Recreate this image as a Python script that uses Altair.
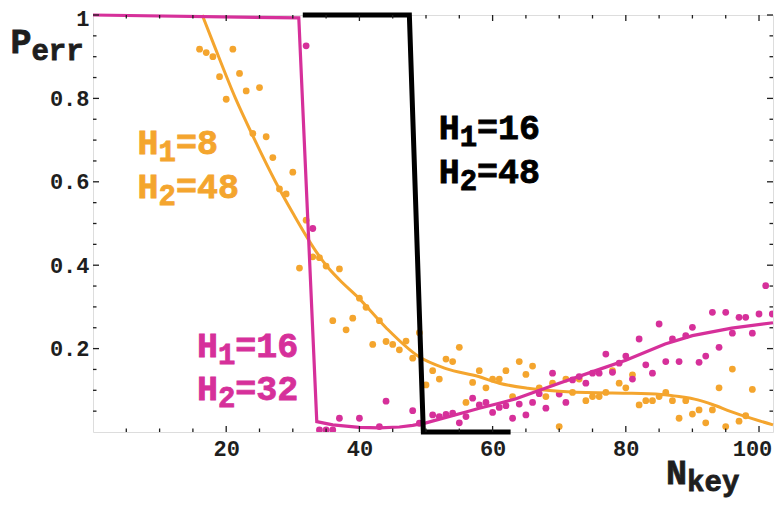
import altair as alt
import pandas as pd

# ---------------- data ----------------
ORANGE_X = list(range(16, 100))
ORANGE_Y = [0.918, 0.910, 0.900, 0.852, 0.798, 0.918, 0.860, 0.818, 0.716, 0.826,
            0.708, 0.658, 0.583, 0.571, 0.623, 0.393, 0.508, 0.420, 0.418, 0.398,
            0.267, 0.391, 0.245, 0.273, 0.321, 0.299, 0.210, 0.267, 0.217, 0.210,
            0.197, 0.218, 0.177, 0.238, 0.113, 0.147, 0.127, 0.175, 0.169, 0.203,
            0.071, 0.119, 0.147, 0.106, 0.127, 0.127, 0.147, 0.085, 0.169, 0.138,
            0.158, 0.106, 0.085, 0.117, 0.013, 0.127, 0.095, 0.127, 0.075, 0.085,
            0.085, 0.095, 0.147, 0.117, 0.106, 0.137, 0.065, 0.075, 0.075, 0.085,
            0.095, 0.075, 0.033, 0.075, 0.043, 0.053, 0.022, 0.053, 0.106, 0.013,
            0.151, 0.026, 0.039, 0.102]

MAG_X = [32, 33, 34, 35, 36, 37, 40, 43, 44, 48, 49] + list(range(51, 103))
MAG_Y = [0.926, 0.488, 0.005, 0.005, 0.005, 0.033, 0.033, 0.013, 0.074, 0.051, 0.021,
         0.041, 0.037, 0.042, 0.045, 0.022, 0.037, 0.081, 0.065, 0.071, 0.047,
         0.059, 0.063, 0.033, 0.067, 0.041, 0.071, 0.092, 0.057, 0.141, 0.091,
         0.071, 0.125, 0.133, 0.117, 0.141, 0.141, 0.187, 0.143, 0.165, 0.182,
         0.127, 0.223, 0.161, 0.141, 0.259, 0.169, 0.223, 0.169, 0.231, 0.251,
         0.167, 0.182, 0.287, 0.203, 0.287, 0.237, 0.275, 0.275, 0.237, 0.283,
         0.351, 0.283]

ORANGE_FIT_X = [16.4, 18, 21.4, 24, 27.4, 30, 33.4, 35, 37, 39.9, 44, 48.9, 53, 57.9,
                61, 65.3, 70, 75.8, 80, 85.3, 88, 90.8, 93, 95.8, 99, 102.1]
ORANGE_FIT_Y = [1.0, 0.935, 0.8, 0.71, 0.6, 0.525, 0.435, 0.40, 0.365, 0.321, 0.250,
                0.181, 0.152, 0.133, 0.117, 0.105, 0.098, 0.094, 0.093, 0.090, 0.085,
                0.077, 0.066, 0.049, 0.032, 0.017]

MAG_FIT_X = [0, 30.9, 33.6, 36, 40, 43, 46, 48, 50, 53, 56, 58, 61, 63.4, 66, 70,
             75.8, 80, 85.9, 90, 95.9, 102.1]
MAG_FIT_Y = [1.0, 0.993, 0.025, 0.017, 0.011, 0.010, 0.012, 0.016, 0.022, 0.035,
             0.048, 0.057, 0.069, 0.079, 0.094, 0.117, 0.149, 0.172, 0.211, 0.231,
             0.249, 0.262]

BLACK_X = [31.5, 47.5, 49.6, 62.7]
BLACK_Y = [1.0, 1.0, 0.0, 0.0]

X_MAJOR = [20, 40, 60, 80, 100]
X_MINOR = [5, 10, 15, 25, 30, 35, 45, 50, 55, 65, 70, 75, 85, 90, 95]
Y_MAJOR = [0.2, 0.4, 0.6, 0.8, 1.0]
Y_MINOR = [0.05, 0.1, 0.15, 0.25, 0.3, 0.35, 0.45, 0.5, 0.55, 0.65, 0.7, 0.75,
           0.85, 0.9, 0.95]

LABEL_MAIN = ["H", "H", "H", "H", "H", "H", "P", "N"]
LABEL_SUB = ["1", "2", "1", "2", "1", "2", "err", "key"]
LABEL_REST = ["=8", "=48", "=16", "=48", "=16", "=32", "", ""]
LABEL_X = [6.7, 6.7, 51.9, 51.9, 15.6, 15.6, -12.4, 86.05]
LABEL_Y = [0.666, 0.560, 0.703, 0.597, 0.180, 0.077, 0.9096, -0.124]

ORANGE = "#f4a52e"
MAGENTA = "#d6309a"
BLACK = "#000000"
DARK = "#1e1e1e"
LABEL_COLOR = [ORANGE, ORANGE, BLACK, BLACK, MAGENTA, MAGENTA, DARK, DARK]

# ---------------- tables ----------------
orange_pts = pd.DataFrame({"x": ORANGE_X, "y": ORANGE_Y})
mag_pts = pd.DataFrame({"x": MAG_X, "y": MAG_Y})
orange_fit = pd.DataFrame({"x": ORANGE_FIT_X, "y": ORANGE_FIT_Y})
mag_fit = pd.DataFrame({"x": MAG_FIT_X, "y": MAG_FIT_Y})
black_fit = pd.DataFrame({"x": BLACK_X, "y": BLACK_Y})
labels = pd.DataFrame({"main": LABEL_MAIN, "sub": LABEL_SUB, "rest": LABEL_REST,
                       "x": LABEL_X, "y": LABEL_Y, "color": LABEL_COLOR})
xmaj = pd.DataFrame({"v": X_MAJOR})
xmin = pd.DataFrame({"v": X_MINOR})
ymaj = pd.DataFrame({"v": Y_MAJOR})
ymin = pd.DataFrame({"v": Y_MINOR})

W, H = 680, 417
FONT = "Liberation Mono"

XSCALE = alt.Scale(domain=[0, 102.1], nice=False, zero=False)
YSCALE = alt.Scale(domain=[0, 1], nice=False, zero=False)
XAXIS = alt.Axis(values=X_MAJOR, format="d", ticks=False, tickSize=0, domain=False,
                 grid=False, labelFont=FONT, labelFontWeight="bold", labelFontSize=22,
                 labelColor=DARK, labelPadding=6, labelFlush=False,
                 labelOffset={"condition": {"test": "datum.value == 100", "value": -7},
                              "value": 0})
YAXIS = alt.Axis(values=Y_MAJOR, format="~g", ticks=False, tickSize=0, domain=False,
                 grid=False, labelFont=FONT, labelFontWeight="bold", labelFontSize=22,
                 labelColor=DARK, labelPadding=4, labelFlush=False,
                 labelOffset={"condition": {"test": "datum.value == 1", "value": 3},
                              "value": 0})


def X(field="x"):
    return alt.X(f"{field}:Q", scale=XSCALE, axis=XAXIS, title=None)


def Y(field="y"):
    return alt.Y(f"{field}:Q", scale=YSCALE, axis=YAXIS, title=None)


DOT = 46
pts_o = alt.Chart(orange_pts).mark_circle(size=DOT, opacity=1, color=ORANGE, clip=True).encode(x=X(), y=Y())
pts_m = alt.Chart(mag_pts).mark_circle(size=DOT, opacity=1, color=MAGENTA, clip=True).encode(x=X(), y=Y())
line_o = alt.Chart(orange_fit).mark_line(color=ORANGE, strokeWidth=3, interpolate="monotone").encode(x=X(), y=Y())
line_m = alt.Chart(mag_fit).mark_line(color=MAGENTA, strokeWidth=3.2).encode(x=X(), y=Y())
line_b = alt.Chart(black_fit).mark_line(color=BLACK, strokeWidth=5, strokeJoin="miter").encode(x=X(), y=Y())

TICK = dict(color=DARK, strokeWidth=1.3)
MAJ, MIN = 6, 3.5
ticks = [
    alt.Chart(xmaj).mark_rule(**TICK).encode(x=X("v"), y=alt.value(H), y2=alt.value(H - MAJ)),
    alt.Chart(xmin).mark_rule(**TICK).encode(x=X("v"), y=alt.value(H), y2=alt.value(H - MIN)),
    alt.Chart(xmaj).mark_rule(**TICK).encode(x=X("v"), y=alt.value(0), y2=alt.value(MAJ)),
    alt.Chart(xmin).mark_rule(**TICK).encode(x=X("v"), y=alt.value(0), y2=alt.value(MIN)),
    alt.Chart(ymaj).mark_rule(**TICK).encode(y=Y("v"), x=alt.value(0), x2=alt.value(MAJ)),
    alt.Chart(ymin).mark_rule(**TICK).encode(y=Y("v"), x=alt.value(0), x2=alt.value(MIN)),
    alt.Chart(ymaj).mark_rule(**TICK).encode(y=Y("v"), x=alt.value(W), x2=alt.value(W - MAJ)),
    alt.Chart(ymin).mark_rule(**TICK).encode(y=Y("v"), x=alt.value(W), x2=alt.value(W - MIN)),
]

BIG, SMALL = 35, 29
txt_common = dict(font=FONT, fontWeight="bold", align="left", baseline="alphabetic",
                  strokeWidth=0.8)
col = alt.Color("color:N", scale=None)
stk = alt.Stroke("color:N", scale=None)
txt_main = alt.Chart(labels).mark_text(fontSize=BIG, **txt_common).encode(
    x=X(), y=Y(), text="main:N", color=col, stroke=stk)
txt_sub = alt.Chart(labels).mark_text(fontSize=SMALL, dx=0.6 * BIG, dy=7, **txt_common).encode(
    x=X(), y=Y(), text="sub:N", color=col, stroke=stk)
txt_rest = alt.Chart(labels).mark_text(fontSize=BIG, dx=0.6 * BIG + 0.6 * SMALL, **txt_common).encode(
    x=X(), y=Y(), text="rest:N", color=col, stroke=stk)

chart = alt.layer(
    pts_o, pts_m, line_o, line_m, line_b, *ticks, txt_main, txt_sub, txt_rest
).properties(
    width=W, height=H,
    autosize=alt.AutoSizeParams(type="none"),
    padding={"left": 85, "top": 7, "right": 2, "bottom": 67},
).configure_view(
    stroke=DARK, strokeWidth=2.5
).configure(background="white")

chart.save("out.html", embed_options={"renderer": "svg", "actions": False})
